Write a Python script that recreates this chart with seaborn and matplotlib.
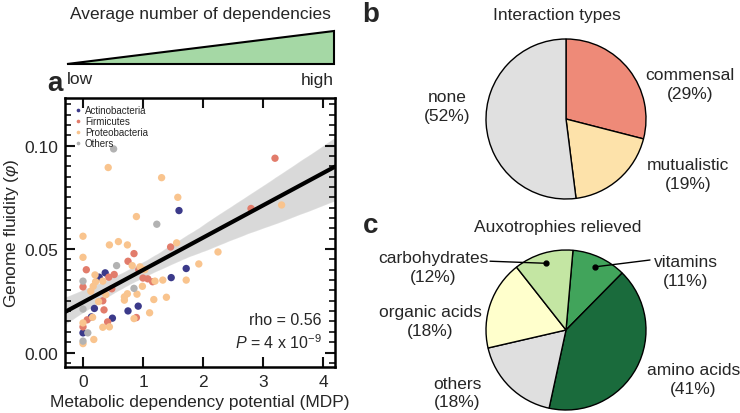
import numpy as np
import pandas as pd
import seaborn as sns
import matplotlib.pyplot as plt
from matplotlib.ticker import MultipleLocator, FormatStrFormatter

# ---- panel a: genome fluidity vs metabolic dependency potential ----
actino_mdp = [1.60, 1.72, 1.47, 0.37, 0.27, 0.19, 0.14, 0.49, 0.75, 0.92, 0.00]
actino_fluid = [0.0686, 0.0406, 0.0362, 0.0385, 0.0364, 0.0213, 0.0172, 0.0166, 0.0201, 0.0224, 0.0095]

firmi_mdp = [3.20, 2.80, 1.46, 0.85, 0.75, 0.055, 0.52, 0.43, 0.93, 1.00,
             1.08, 1.16, 0.00, 0.48, 0.33, 0.35, 0.07, 0.89, 0.41, 0.00]
firmi_fluid = [0.0939, 0.0696, 0.0510, 0.0478, 0.0441, 0.0400, 0.0377, 0.0364, 0.0400, 0.0360,
               0.0356, 0.0342, 0.0317, 0.0308, 0.0250, 0.0206, 0.0158, 0.0169, 0.0148, 0.0124]

proteo_mdp = [0.42, 1.31, 1.58, 3.31, 0.89, 0.00, 0.44, 0.59, 0.74, 1.56,
              2.25, 0.00, 1.93, 0.82, 0.95, 1.03, 0.20, 0.33, 0.21, 0.17,
              0.13, 1.20, 1.33, 1.72, 0.99, 0.74, 0.90, 1.39, 0.69, 0.69,
              1.18, 0.38, 0.26, 1.11, 0.85, 0.00, 0.33, 0.44, 0.18, 0.00, 0.16]
proteo_fluid = [0.0894, 0.0845, 0.0750, 0.0713, 0.0657, 0.0562, 0.0520, 0.0536, 0.0520, 0.0530,
                0.0486, 0.0460, 0.0428, 0.0420, 0.0414, 0.0400, 0.0375, 0.0345, 0.0342, 0.0320,
                0.0296, 0.0345, 0.0350, 0.0350, 0.0320, 0.0284, 0.0282, 0.0267, 0.0269, 0.0253,
                0.0256, 0.0280, 0.0246, 0.0192, 0.0164, 0.0143, 0.0122, 0.0124, 0.0063, 0.0043, 0.0170]

other_mdp = [0.51, 1.23, 0.56, 0.00, 0.85, 0.00, 0.08, 0.00]
other_fluid = [0.0984, 0.0620, 0.0420, 0.0345, 0.0310, 0.0210, 0.0095, 0.0055]

groups = ['Actinobacteria', 'Firmicutes', 'Proteobacteria', 'Others']
group_colors = ['#3b3a8a', '#e27c6b', '#f9c48e', '#b2b2b2']

# ---- panel b: interaction types ----
inter_labels = ['commensal', 'mutualistic', 'none']
inter_pct = [29, 19, 52]
inter_colors = ['#ee8a78', '#fde2aa', '#e0e0e0']

# ---- panel c: auxotrophies relieved ----
auxo_labels = ['vitamins', 'amino acids', 'others', 'organic acids', 'carbohydrates']
auxo_pct = [11, 41, 18, 18, 12]
auxo_colors = ['#41a45b', '#1a6b3c', '#dfdfdf', '#ffffcc', '#c4e6a3']

df = pd.concat([
    pd.DataFrame({'mdp': actino_mdp, 'fluidity': actino_fluid, 'group': 'Actinobacteria'}),
    pd.DataFrame({'mdp': firmi_mdp, 'fluidity': firmi_fluid, 'group': 'Firmicutes'}),
    pd.DataFrame({'mdp': proteo_mdp, 'fluidity': proteo_fluid, 'group': 'Proteobacteria'}),
    pd.DataFrame({'mdp': other_mdp, 'fluidity': other_fluid, 'group': 'Others'}),
], ignore_index=True)

sns.set_style('white')
plt.rcParams.update({
    'font.family': ['Liberation Sans', 'DejaVu Sans'],
    'mathtext.fontset': 'custom',
    'mathtext.rm': 'Liberation Sans',
    'mathtext.it': 'Liberation Sans:italic',
    'axes.edgecolor': 'k',
})

W, H = 740, 414
fig = plt.figure(figsize=(W / 100, H / 100), dpi=100)


def box(l, t, r, b):
    return [l / W, 1 - b / H, (r - l) / W, (b - t) / H]


def pos(x, y):
    return x / W, 1 - y / H


# scatter + regression
ax = fig.add_axes(box(65, 99, 335, 368))
ax.set_xlim(-0.3, 4.2)
ax.set_ylim(-0.007, 0.123)
sns.regplot(data=df, x='mdp', y='fluidity', scatter=False, truncate=False, ci=95, seed=1,
            color='k', line_kws={'lw': 3}, ax=ax)
sns.scatterplot(data=df, x='mdp', y='fluidity', hue='group', hue_order=groups,
                palette=dict(zip(groups, group_colors)), s=28, linewidth=0, ax=ax)
ax.set_xlim(-0.3, 4.2)
ax.set_ylim(-0.007, 0.123)
ax.set_xlabel('Metabolic dependency potential (MDP)', fontsize=12.5, labelpad=4)
ax.set_ylabel(r'Genome fluidity ($\varphi$)', fontsize=12.5, labelpad=2)
ax.xaxis.set_major_locator(MultipleLocator(1))
ax.yaxis.set_major_locator(MultipleLocator(0.05))
ax.yaxis.set_minor_locator(MultipleLocator(0.005))
ax.yaxis.set_major_formatter(FormatStrFormatter('%.2f'))
ax.tick_params(which='both', direction='in', top=True, right=True, bottom=True, left=True,
               color='#111111', labelsize=12.5)
ax.tick_params(which='major', length=7.5, width=1.5, pad=5)
ax.tick_params(which='minor', length=4.5, width=1.2)
for sp in ax.spines.values():
    sp.set_linewidth(1.8)
ax.legend(loc='upper left', fontsize=7, frameon=False, markerscale=0.5,
          handletextpad=0.1, borderaxespad=0.35, labelspacing=0.1, handlelength=1.2)
ax.text(0.95, 0.16, 'rho = 0.56', transform=ax.transAxes, ha='right', fontsize=11.5)
ax.text(0.95, 0.07, r'$P$ = 4 x 10$^{-9}$', transform=ax.transAxes, ha='right', fontsize=11.5)

# dependency gradient triangle
tri = fig.add_axes(box(67, 32, 334, 65))
tri.set_xlim(0, 1)
tri.set_ylim(0, 1)
tri.axis('off')
tri.fill([0, 1, 1], [0, 0, 1], facecolor='#a5d8a5', edgecolor='k', lw=1.5, clip_on=False)
fig.text(*pos(200, 15), 'Average number of dependencies', ha='center', va='center', fontsize=12.5)
fig.text(*pos(80, 80), 'low', ha='center', va='center', fontsize=12.5)
fig.text(*pos(317, 80), 'high', ha='center', va='center', fontsize=12.5)

# panel b pie
axb = fig.add_axes(box(566 - 104, 120 - 104, 566 + 104, 120 + 104))
axb.pie(inter_pct, colors=inter_colors, startangle=90, counterclock=False,
        wedgeprops=dict(edgecolor='k', linewidth=1))
axb.set_xlim(-1.3, 1.3)
axb.set_ylim(-1.3, 1.3)
axb.set_aspect('equal')
b_text = {'commensal': (1.55, 0.44), 'mutualistic': (1.53, -0.69), 'none': (-1.49, 0.16)}
for lab, pct in zip(inter_labels, inter_pct):
    axb.text(*b_text[lab], f'{lab}\n({pct}%)', ha='center', va='center', fontsize=12.5,
             linespacing=1.3)
axb.text(-0.11, 1.31, 'Interaction types', ha='center', va='center', fontsize=12.5)

# panel c pie
axc = fig.add_axes(box(566 - 104, 331 - 104, 566 + 104, 331 + 104))
wedges, _ = axc.pie(auxo_pct, colors=auxo_colors, startangle=85, counterclock=False,
                    wedgeprops=dict(edgecolor='k', linewidth=1))
axc.set_xlim(-1.3, 1.3)
axc.set_ylim(-1.3, 1.3)
axc.set_aspect('equal')
c_text = {'carbohydrates': (-1.66, 0.79), 'vitamins': (1.5, 0.74), 'organic acids': (-1.7, 0.11),
          'amino acids': (1.59, -0.61), 'others': (-1.36, -0.78)}
leader = {'carbohydrates': (-0.95, 0.86), 'vitamins': (1.05, 0.875)}
for w, lab, pct in zip(wedges, auxo_labels, auxo_pct):
    axc.text(*c_text[lab], f'{lab}\n({pct}%)', ha='center', va='center', fontsize=12.5,
             linespacing=1.3)
    if lab in leader:
        ang = np.deg2rad((w.theta1 + w.theta2) / 2)
        dot = (0.87 * np.cos(ang), 0.87 * np.sin(ang))
        axc.annotate('', xy=dot, xytext=leader[lab],
                     arrowprops=dict(arrowstyle='-', color='k', lw=1, shrinkA=0, shrinkB=0))
        axc.plot(*dot, 'o', color='k', ms=3.5)
axc.text(-0.11, 1.29, 'Auxotrophies relieved', ha='center', va='center', fontsize=12.5)

# panel letters
fig.text(*pos(55, 84), 'a', ha='center', va='center', fontsize=20, fontweight='bold')
fig.text(*pos(371, 15), 'b', ha='center', va='center', fontsize=20, fontweight='bold')
fig.text(*pos(371, 226), 'c', ha='center', va='center', fontsize=20, fontweight='bold')

fig.savefig('out.png', dpi=100)
